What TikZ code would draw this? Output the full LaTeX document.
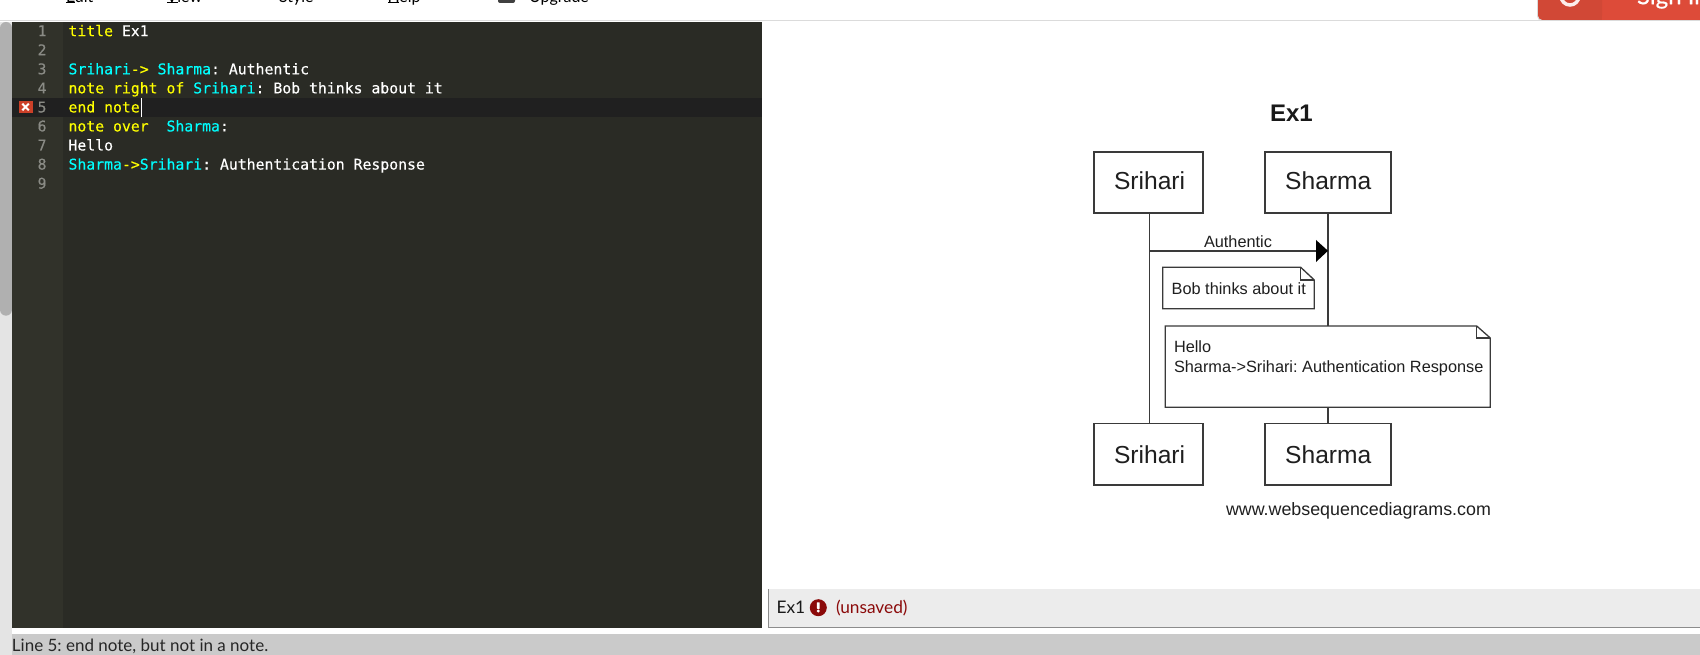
\documentclass[tikz,border=0pt]{standalone}
\usepackage{fontspec}
\setmainfont{Liberation Sans}
\newfontfamily\uifont{Lato}
\newfontfamily\uibold{Lato}[FakeBold=0.6]
\newfontfamily\codefont{DejaVu Sans Mono}[FakeBold=0.25]
\definecolor{edbg}{HTML}{2A2B25}
\definecolor{gutterbg}{HTML}{31322A}
\definecolor{actline}{HTML}{202020}
\definecolor{gutnum}{HTML}{8A8B85}
\definecolor{kw}{HTML}{FFFF00}
\definecolor{nm}{HTML}{00FFFF}
\definecolor{ink}{HTML}{3A3A3A}
\definecolor{foot}{HTML}{ECECEC}
\definecolor{statusbg}{HTML}{CACACA}
\definecolor{thumb}{HTML}{B0B0B0}
\definecolor{track}{HTML}{E4E4E4}
\definecolor{darkred}{HTML}{8B0A0A}
\definecolor{btn}{HTML}{DD4B39}
\definecolor{btndark}{HTML}{D14836}
\definecolor{errmark}{HTML}{CC4028}
\newcommand{\sz}[1]{\fontsize{#1}{#1}\selectfont}
\newcommand{\K}[1]{\textcolor{kw}{#1}}
\newcommand{\N}[1]{\textcolor{nm}{#1}}
\frenchspacing
\tikzset{
  x=1pt,y=-1pt,
  base/.style={inner sep=0pt,outer sep=0pt,anchor=base west},
  code/.style={base,text=white,font=\codefont\sz{14.8}},
  num/.style={inner sep=0pt,outer sep=0pt,anchor=base east,text=gutnum,font=\codefont\sz{14.8}},
  menu/.style={base,text=black,font=\uifont\sz{16}},
  actor/.style={draw=ink,line width=1.2pt,fill=white,inner sep=0pt,outer sep=0pt},
  life/.style={draw=ink,line width=1.5pt},
  notebox/.style={draw=ink,line width=1.3pt,fill=white,line join=miter},
  dtext/.style={base,text=black!88,font=\sz{16.3}},
  atext/.style={base,text=black!88,font=\sz{24.6}},
}
\begin{document}
\begin{tikzpicture}
\useasboundingbox (0,0) rectangle (1700,655);
\begin{scope}
\clip (0,0) rectangle (1700,655);
\fill[white] (0,0) rectangle (1700,655);
% top menu, cut by the page edge
\node[menu] (mEdit) at (66,2.3) {Edit};
\node[menu] (mView) at (166.5,2.3) {View};
\node[menu] (mStyle) at (279,2.3) {Style};
\node[menu] (mHelp) at (387.5,2.3) {Help};
\fill[black] (66,2.4) rectangle (75,3.4);
\fill[black] (166.5,2.4) rectangle (178,3.4);
\fill[black] (387.5,2.4) rectangle (399,3.4);
\fill[black!75,rounded corners=2pt] (498,-8) rectangle (515,3);
\node[menu] (mUp) at (529,2.3) {Upgrade};
% rule and sign in button
\draw[black!14,line width=1pt] (0,21) -- (1700,21);
\fill[black!14,rounded corners=5pt] (1537,-10) rectangle (1710,21);
\fill[btn,rounded corners=5pt] (1538,-10) rectangle (1710,20);
\fill[btndark,rounded corners=5pt] (1538,-10) rectangle (1602,20);
\fill[btndark] (1560,-10) rectangle (1602,20);
\draw[white!90!btn,line width=3.5pt] (1570,-4) circle (9);
\node[base,text=white,font=\uibold\sz{24}] (signin) at (1637,4.2) {Sign In};
% left scrollbar
\fill[track] (0,22) rectangle (12,655);
\fill[thumb,rounded corners=6pt] (0,22) rectangle (12,315.7);
% editor
\fill[edbg] (12,21.7) rectangle (762,627.7);
\fill[gutterbg] (12,21.7) rectangle (63,627.7);
\fill[actline] (12,98) rectangle (762,116.7);
\foreach \n/\b in {1/36.2,2/55.25,3/74.3,4/93.35,5/112.4,6/131.45,7/150.5,8/169.55,9/188.6}
  \node[num] (ln\n) at (46.5,\b) {\n};
\node[code] (c1) at (68.5,36.2) {\K{title} Ex1};
\node[code] (c3) at (68.5,74.3) {\N{Srihari}\K{->} \N{Sharma}: Authentic};
\node[code] (c4) at (68.5,93.35) {\K{note right of} \N{Srihari}: Bob thinks about it};
\node[code] (c5) at (68.5,112.4) {\K{end note}};
\node[code] (c6) at (68.5,131.45) {\K{note over}\ \ \N{Sharma}:};
\node[code] (c7) at (68.5,150.5) {Hello};
\node[code] (c8) at (68.5,169.55) {\N{Sharma}\K{->}\N{Srihari}: Authentication Response};
\fill[white] (140.6,98) rectangle (142.2,116.7);
% error marker
\fill[errmark] (18.6,100.7) rectangle (32.5,113.3);
\draw[white,line width=2pt] (22.3,103.7) -- (28.8,110.3) (28.8,103.7) -- (22.3,110.3);
% status bar
\fill[statusbg] (12,634) rectangle (1700,655);
\node[base,text=black!85,font=\uifont\sz{17}] (status) at (12,651.5) {Line 5: end note, but not in a note.};
% footer tab
\fill[foot] (768.3,589.3) rectangle (1700,627.3);
\draw[black!45,line width=1pt] (768.3,589.3) -- (768.3,627.3) -- (1700,627.3);
\node[base,text=black!90,font=\uifont\sz{17.3}] (tab) at (776.5,613.3) {Ex1};
\fill[darkred] (818.3,607.7) circle (8.5);
\fill[white,rounded corners=0.5pt] (816.9,602.3) rectangle (819.7,608.8);
\fill[white] (818.3,611) circle (1.6);
\node[base,text=darkred,font=\uifont\sz{17.3}] (unsaved) at (836,613.3) {(unsaved)};
\end{scope}
% diagram
\node[base,text=black!90,font=\bfseries\sz{24}] (title) at (1270,122) {Ex1};
\node[actor,minimum width=109pt,minimum height=61pt] (srT) at (1148.5,182.5) {};
\node[actor,minimum width=126pt,minimum height=61pt] (shT) at (1328,182.5) {};
\node[actor,minimum width=109pt,minimum height=61.7pt] (srB) at (1148.5,454.2) {};
\node[actor,minimum width=126pt,minimum height=61.7pt] (shB) at (1328,454.2) {};
\node[atext] (srTt) at (1114,190) {Srihari};
\node[atext] (shTt) at (1285.2,190) {Sharma};
\node[atext] (srBt) at (1114,463) {Srihari};
\node[atext] (shBt) at (1285.2,463) {Sharma};
\coordinate (srX) at (1149.3,250.8);
\coordinate (shX) at (1328,250.8);
\draw[life] (srT.south -| srX) -- (srB.north -| srX);
\draw[life] (shT.south -| shX) -- (shB.north -| shX);
\draw[life] (srX) -- (1316,250.8);
\fill[black] (1316,240) -- (shX) -- (1316,262) -- cycle;
\node[dtext] (auth) at (1204,247.3) {Authentic};
% note 1
\draw[notebox] (1162.7,267.3) -- (1300.7,267.3) -- (1314.3,280) -- (1314.3,308.7) -- (1162.7,308.7) -- cycle;
\draw[ink,line width=1.1pt] (1300.7,267.3) -- (1300.7,280) -- (1314.3,280);
\node[dtext] (n1) at (1171.7,294) {Bob thinks about it};
% note 2
\draw[notebox] (1165.3,326) -- (1476.7,326) -- (1490.3,338) -- (1490.3,407.3) -- (1165.3,407.3) -- cycle;
\draw[ink,line width=1.1pt] (1476.7,326) -- (1476.7,338) -- (1490.3,338);
\node[dtext] (n2a) at (1174,352.2) {Hello};
\node[dtext] (n2b) at (1174,372.5) {Sharma->Srihari: Authentication Response};
\node[base,text=black!88,font=\sz{17.85}] (www) at (1226,515) {www.websequencediagrams.com};
\end{tikzpicture}
\end{document}
